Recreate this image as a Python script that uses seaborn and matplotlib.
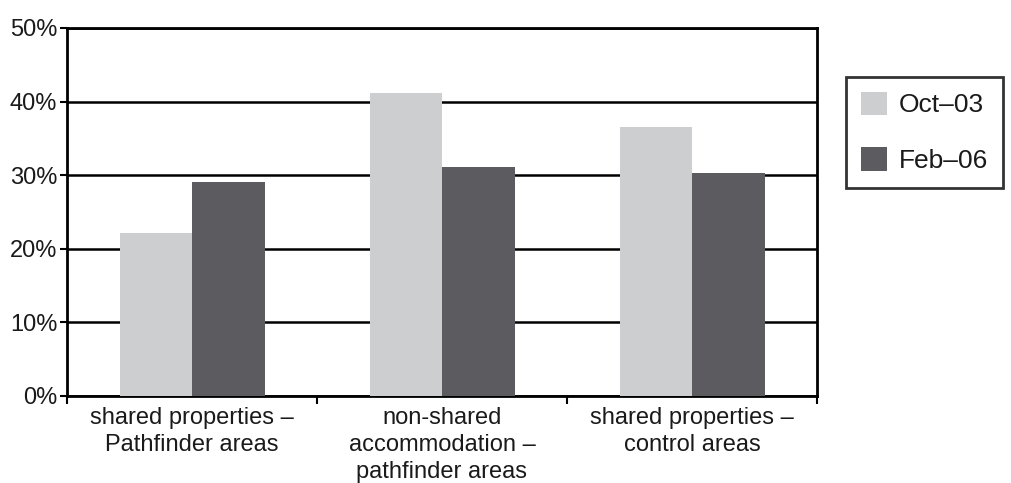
import matplotlib
matplotlib.use("Agg")
import matplotlib.pyplot as plt
import seaborn as sns
import pandas as pd
from matplotlib.ticker import FixedLocator, PercentFormatter

categories = ["shared properties –\nPathfinder areas",
              "non-shared\naccommodation –\npathfinder areas",
              "shared properties –\ncontrol areas"]
series = ["Oct–03", "Feb–06"]
oct03 = [22.1, 41.2, 36.5]
feb06 = [29.1, 31.1, 30.3]
colors = ["#CDCED0", "#5C5B60"]

df = pd.DataFrame({
    "category": categories * 2,
    "series": [series[0]] * 3 + [series[1]] * 3,
    "value": oct03 + feb06,
})

sns.set_theme(style="white")
plt.rcParams["font.family"] = ["Liberation Sans", "DejaVu Sans"]

fig = plt.figure(figsize=(10.11, 4.83), dpi=100)
ax = fig.add_axes([67/1011, 1 - 396/483, (817 - 67)/1011, (396 - 28)/483])

sns.barplot(data=df, x="category", y="value", hue="series", palette=colors,
            width=0.58, gap=0, saturation=1, linewidth=0, ax=ax, zorder=3)

ax.set_ylim(0, 50)
ax.set_xlim(-0.5, 2.5)
ax.set_yticks([0, 10, 20, 30, 40, 50])
ax.yaxis.set_major_formatter(PercentFormatter(decimals=0))
ax.grid(axis="y", color="black", linewidth=1.8, zorder=1)
ax.set_axisbelow(True)
ax.set_xlabel("")
ax.set_ylabel("")
for s in ax.spines.values():
    s.set_visible(True)
    s.set_color("black")
    s.set_linewidth(2)
ax.tick_params(axis="y", which="major", length=5, width=1.5, color="black",
               labelsize=17, labelcolor="#1a1a1a", pad=2, left=True)
ax.tick_params(axis="x", which="major", length=0, labelsize=17,
               labelcolor="#1a1a1a", pad=8)
for lbl in ax.get_xticklabels():
    lbl.set_linespacing(1.3)
ax.xaxis.set_minor_locator(FixedLocator([-0.5, 0.5, 1.5, 2.5]))
ax.tick_params(axis="x", which="minor", length=6, width=1.5, color="black",
               bottom=True)

leg = ax.legend(title=None, loc="upper left",
                bbox_to_anchor=(846/1011, 1 - 77/483),
                bbox_transform=fig.transFigure,
                frameon=True, fancybox=False, fontsize=19, handlelength=1.0,
                handleheight=1.0, handletextpad=0.45, labelspacing=1.14,
                borderpad=0.55, borderaxespad=0)
leg.get_frame().set_edgecolor("black")
leg.get_frame().set_linewidth(2)
for t in leg.get_texts():
    t.set_color("#1a1a1a")

fig.savefig("out.png", dpi=100)
